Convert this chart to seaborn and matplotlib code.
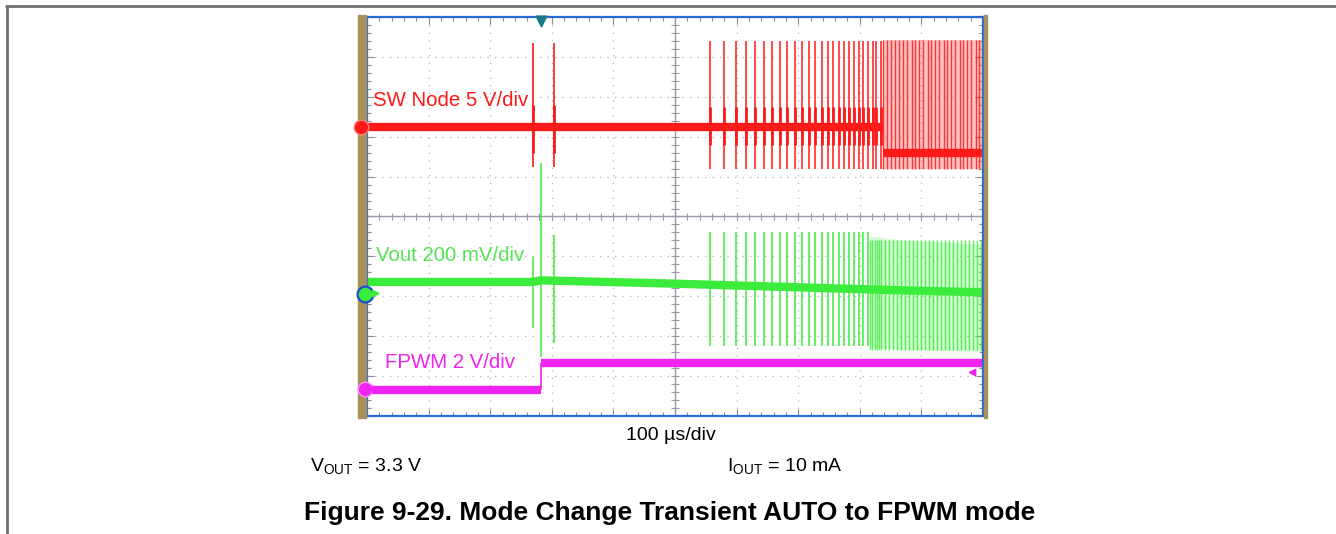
import numpy as np
import pandas as pd
import seaborn as sns
import matplotlib.pyplot as plt
from matplotlib.patches import Rectangle
from matplotlib.lines import Line2D

# scope traces in divisions (x: 0..10, y: 0..10)
sw_x = [0.0, 8.38, 8.38, 10.0]
sw_y = [7.25, 7.25, 6.60, 6.60]
sw_seg = [0, 0, 1, 1]

vout_x = [0.0, 2.69, 2.82, 4.92, 8.65, 10.0]
vout_y = [3.36, 3.36, 3.40, 3.32, 3.15, 3.10]
vout_seg = [0, 0, 0, 0, 0, 0]

fpwm_x = [0.0, 2.82, 2.82, 10.0]
fpwm_y = [0.65, 0.65, 1.32, 1.32]
fpwm_seg = [0, 0, 1, 1]

# transients at the mode change
sw_edge_x = [2.69, 3.04]
sw_edge_top = [9.36, 9.36]
sw_edge_bot = [6.23, 6.23]
vout_edge_x = [2.69, 2.82, 3.04]
vout_edge_top = [3.98, 6.33, 4.53]
vout_edge_bot = [2.20, 1.48, 1.83]

# switching pulses in AUTO (PFM) mode
pulse_x = [5.57, 5.79, 5.99, 6.15, 6.30, 6.44, 6.57, 6.70, 6.82, 6.94, 7.06,
           7.17, 7.28, 7.38, 7.48, 7.57, 7.66, 7.74, 7.83, 7.91, 7.99, 8.06,
           8.14, 8.21, 8.27, 8.34]
sw_pulse_top, sw_pulse_bot = 9.40, 6.20
vout_pulse_top, vout_pulse_bot = 4.60, 1.76

# dense switching once FPWM takes over
sw_dense_x = [8.38, 8.44, 8.51, 8.57, 8.64, 8.70, 8.77, 8.84, 8.90, 8.96, 9.03,
              9.10, 9.16, 9.22, 9.29, 9.36, 9.42, 9.48, 9.55, 9.62, 9.68, 9.74,
              9.81, 9.88, 9.94]
sw_dense_top, sw_dense_bot = 9.42, 6.20
vout_dense_x = [8.17, 8.20, 8.24, 8.28, 8.31, 8.35, 8.41, 8.47, 8.54, 8.60, 8.67,
                8.73, 8.80, 8.87, 8.93, 9.00, 9.06, 9.13, 9.19, 9.26, 9.32, 9.39,
                9.45, 9.52, 9.58, 9.65, 9.71, 9.78, 9.84, 9.91, 9.97]
vout_env_x = [8.17, 8.65, 10.0]
vout_env_top = [4.50, 4.42, 4.30]
vout_env_bot = [1.73, 1.66, 1.62]

RED = '#ff1a1a'
GREEN = '#3cec3c'
MAGENTA = '#f024f0'

sns.set_style("white")
plt.rcParams['font.family'] = ['Liberation Sans', 'DejaVu Sans']
plt.rcParams['mathtext.fontset'] = 'custom'
plt.rcParams['mathtext.rm'] = 'Liberation Sans'
plt.rcParams['text.color'] = 'black'
plt.rcParams['lines.solid_capstyle'] = 'butt'

df = pd.concat([
    pd.DataFrame({'t': sw_x, 'v': sw_y, 'seg': sw_seg, 'trace': 'SW'}),
    pd.DataFrame({'t': vout_x, 'v': vout_y, 'seg': vout_seg, 'trace': 'Vout'}),
    pd.DataFrame({'t': fpwm_x, 'v': fpwm_y, 'seg': fpwm_seg, 'trace': 'FPWM'}),
], ignore_index=True)

fig = plt.figure(figsize=(13.36, 5.34), dpi=100)
ax = fig.add_axes([367 / 1336, 118 / 534, 616 / 1336, 399 / 534])

# graticule
ax.set_xlim(0, 10)
ax.set_ylim(0, 10)
ax.set_xticks(range(11))
ax.set_yticks(range(11))
ax.set_xticks(np.arange(0, 10.01, 0.2), minor=True)
ax.set_yticks(np.arange(0, 10.01, 0.2), minor=True)
ax.tick_params(which='both', direction='in', top=True, right=True, bottom=True, left=True,
               labelbottom=False, labelleft=False, color='#8a8a9a')
ax.tick_params(which='major', length=5, width=0.8)
ax.tick_params(which='minor', length=3, width=0.8)
ax.grid(True, which='major', color='#b4b4b4', linestyle=(0, (1, 5)), linewidth=0.9)
ax.axhline(5, color='#9a9aaa', lw=1)
ax.axvline(5, color='#9a9aaa', lw=1)
minor = np.arange(0, 10.01, 0.2)
ax.vlines(minor, 4.92, 5.08, color='#9a9aaa', lw=0.8)
ax.hlines(minor, 4.94, 5.06, color='#9a9aaa', lw=0.8)
for s in ax.spines.values():
    s.set_color('#2a6ad8')
    s.set_linewidth(1.6)

# dense FPWM envelopes
ax.fill_between([sw_dense_x[0], 10.0], sw_dense_bot, sw_dense_top, color=RED, alpha=0.26, lw=0)
ax.fill_between(vout_env_x, vout_env_bot, vout_env_top, color=GREEN, alpha=0.24, lw=0)

# baselines
sns.lineplot(data=df, x='t', y='v', hue='trace', units='seg', estimator=None, sort=False,
             palette={'SW': RED, 'Vout': GREEN, 'FPWM': MAGENTA}, linewidth=6.0,
             legend=False, ax=ax)
ax.set_xlabel('')
ax.set_ylabel('')
ax.vlines(2.82, fpwm_y[1], fpwm_y[2], color=MAGENTA, lw=1.2)

# pulses
ax.vlines(pulse_x, sw_pulse_bot, sw_pulse_top, color=RED, lw=1.1)
ax.vlines(pulse_x, 6.8, 7.75, color=RED, lw=2.0)
ax.vlines(pulse_x[:23], vout_pulse_bot, vout_pulse_top, color=GREEN, lw=1.1)
ax.vlines(sw_dense_x, sw_dense_bot, sw_dense_top, color=RED, lw=1.0, alpha=0.85)
ax.vlines(vout_dense_x, vout_env_bot[1], vout_env_top[1], color=GREEN, lw=1.0, alpha=0.8)
ax.vlines(sw_edge_x, sw_edge_bot, sw_edge_top, color=RED, lw=1.2)
ax.vlines(sw_edge_x, 6.6, 7.8, color=RED, lw=2.0)
ax.vlines(vout_edge_x, vout_edge_bot, vout_edge_top, color=GREEN, lw=1.1)

# trace labels
ax.text(0.10, 7.90, 'SW Node 5 V/div', color=RED, fontsize=14.7, va='center', ha='left')
ax.text(0.14, 4.03, 'Vout 200 mV/div', color='#55e455', fontsize=14.7, va='center', ha='left')
ax.text(0.29, 1.33, 'FPWM 2 V/div', color=MAGENTA, fontsize=14.7, va='center', ha='left')

# bezel and channel markers
ax.add_patch(Rectangle((-0.15, -0.05), 0.135, 10.1, color='#a8905a', clip_on=False, zorder=5))
ax.add_patch(Rectangle((10.01, -0.05), 0.05, 10.1, color='#a8905a', clip_on=False, zorder=5))
ax.scatter([-0.09], [7.25], s=110, color=RED, edgecolor='#ff8080', lw=1, clip_on=False, zorder=6)
ax.scatter([-0.03], [3.07], s=130, color=GREEN, edgecolor='#1a4fd0', lw=1.6, clip_on=False, zorder=6)
ax.scatter([-0.03], [0.67], s=110, color=MAGENTA, edgecolor='#ff90ff', lw=1, clip_on=False, zorder=6)
ax.scatter([0.14, 0.14, 0.14], [7.25, 3.07, 0.67], marker='>', s=22,
           color=[RED, GREEN, MAGENTA], clip_on=False, zorder=6)
ax.scatter([2.82], [9.9], marker='v', s=60, color='#177a86', clip_on=False, zorder=6)
ax.scatter([9.82], [1.1], marker='<', s=20, color=MAGENTA, zorder=6)

# captions
fig.text(671 / 1336, 1 - 435 / 534, '100 µs/div', fontsize=14, ha='center', va='center')
fig.text(310 / 1336, 1 - 467 / 534, r'V$_{\mathrm{OUT}}$ = 3.3 V', fontsize=14, ha='left', va='center')
fig.text(727 / 1336, 1 - 467 / 534, r'I$_{\mathrm{OUT}}$ = 10 mA', fontsize=14, ha='left', va='center')
fig.text(670 / 1336, 1 - 513 / 534, 'Figure 9-29. Mode Change Transient AUTO to FPWM mode',
         fontsize=19, fontweight='bold', ha='center', va='center')

# page frame
fig.add_artist(Line2D([5 / 1336, 1], [1 - 5.5 / 534] * 2, color='#707070', lw=2))
fig.add_artist(Line2D([6.5 / 1336] * 2, [0, 1 - 5 / 534], color='#707070', lw=2))

fig.savefig('out.png', dpi=100)
